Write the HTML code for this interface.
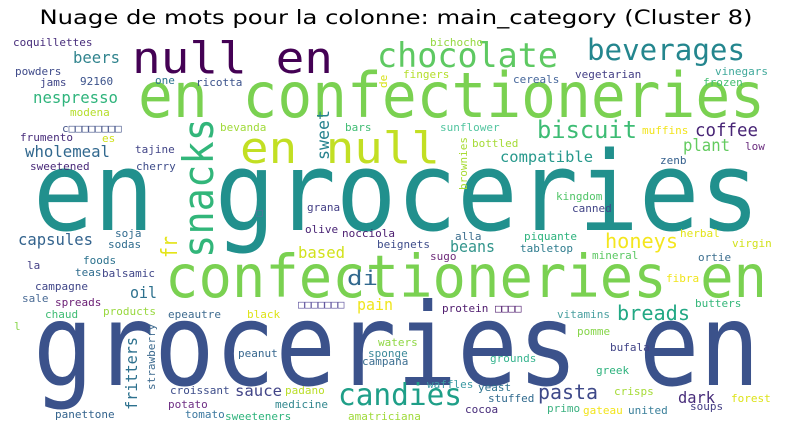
<!DOCTYPE html>
<html><head><meta charset="utf-8"><style>
html,body{margin:0;padding:0;background:#fff;}
svg{display:block}
text{font-family:"DejaVu Sans Mono","Liberation Mono","Noto Sans CJK SC",monospace;}
.t{font-family:"DejaVu Sans","Liberation Sans",sans-serif;}
.s{font-size:11px}
</style></head><body>
<svg width="790" height="429" viewBox="0 0 790 429">
<text class="t" x="396" y="24" text-anchor="middle" font-size="19.5" textLength="713" lengthAdjust="spacingAndGlyphs" fill="#000">Nuage de mots pour la colonne: main_category (Cluster 8)</text>
<g>
<!-- big words -->
<text x="33" y="230" font-size="110" textLength="727" lengthAdjust="spacingAndGlyphs" fill="#21908d">en groceries</text>
<text x="33" y="385" font-size="114" textLength="727" lengthAdjust="spacingAndGlyphs" fill="#3b528b">groceries en</text>
<text x="138" y="117" font-size="62" textLength="627" lengthAdjust="spacingAndGlyphs" fill="#7ad151">en confectioneries</text>
<text x="165" y="297" font-size="59" textLength="602" lengthAdjust="spacingAndGlyphs" fill="#7ad151">confectioneries en</text>
<text x="132" y="73" font-size="44" textLength="201" lengthAdjust="spacingAndGlyphs" fill="#440154">null en</text>
<text x="240" y="163" font-size="44" textLength="200" lengthAdjust="spacingAndGlyphs" fill="#c2df23">en null</text>
<text transform="translate(213,258) rotate(-90)" font-size="42" textLength="140" lengthAdjust="spacingAndGlyphs" fill="#32b67a">snacks</text>
<text x="377" y="67" font-size="34" textLength="181" lengthAdjust="spacingAndGlyphs" fill="#5ec962">chocolate</text>
<text x="587" y="60" font-size="29" textLength="158" lengthAdjust="spacingAndGlyphs" fill="#24868e">beverages</text>
<text x="338" y="405" font-size="30" textLength="124" lengthAdjust="spacingAndGlyphs" fill="#1f9f88">candies</text>
<text x="537" y="138" font-size="24" textLength="100" lengthAdjust="spacingAndGlyphs" fill="#3dbc74">biscuit</text>
<!-- medium words -->
<text x="73" y="63" font-size="15.6" textLength="47" lengthAdjust="spacingAndGlyphs" fill="#31848e">beers</text>
<text x="33" y="103" font-size="15.6" textLength="85" lengthAdjust="spacingAndGlyphs" fill="#2fb47c">nespresso</text>
<text x="25" y="157" font-size="15.6" textLength="85" lengthAdjust="spacingAndGlyphs" fill="#31688e">wholemeal</text>
<text x="18" y="245" font-size="15.6" textLength="75" lengthAdjust="spacingAndGlyphs" fill="#33638d">capsules</text>
<text transform="translate(329,160) rotate(-90)" font-size="17" textLength="50" lengthAdjust="spacingAndGlyphs" fill="#26828e">sweet</text>
<text transform="translate(177,258) rotate(-90)" font-size="22" textLength="22" lengthAdjust="spacingAndGlyphs" fill="#e4e419">fr</text>
<text x="695" y="136" font-size="17.5" textLength="63" lengthAdjust="spacingAndGlyphs" fill="#482576">coffee</text>
<text x="683" y="151" font-size="17" textLength="47" lengthAdjust="spacingAndGlyphs" fill="#63cb5f">plant</text>
<text x="500" y="162" font-size="15.5" textLength="93" lengthAdjust="spacingAndGlyphs" fill="#27998c">compatible</text>
<text x="298" y="258" font-size="16" textLength="47" lengthAdjust="spacingAndGlyphs" fill="#d2e21b">based</text>
<text x="347" y="285" font-size="20" textLength="31" lengthAdjust="spacingAndGlyphs" fill="#31688e">di</text>
<text x="130" y="298" font-size="16" textLength="27" lengthAdjust="spacingAndGlyphs" fill="#2d718e">oil</text>
<text x="357" y="310" font-size="16" textLength="36" lengthAdjust="spacingAndGlyphs" fill="#efe51c">pain</text>
<text transform="translate(137,410) rotate(-90)" font-size="16" textLength="73" lengthAdjust="spacingAndGlyphs" fill="#2d718e">fritters</text>
<text x="235" y="396" font-size="15.5" textLength="47" lengthAdjust="spacingAndGlyphs" fill="#414487">sauce</text>
<text x="605" y="248" font-size="20" textLength="73" lengthAdjust="spacingAndGlyphs" fill="#f4e61e">honeys</text>
<text x="450" y="252" font-size="16" textLength="45" lengthAdjust="spacingAndGlyphs" fill="#31948b">beans</text>
<text x="617" y="320" font-size="20" textLength="73" lengthAdjust="spacingAndGlyphs" fill="#22a884">breads</text>
<text x="538" y="399" font-size="20" textLength="60" lengthAdjust="spacingAndGlyphs" fill="#3e4989">pasta</text>
<text x="678" y="403" font-size="16" textLength="37" lengthAdjust="spacingAndGlyphs" fill="#472c7a">dark</text>
<!-- small words -->
<text class="s" x="13" y="46" fill="#472d7b">coquillettes</text>
<text class="s" x="15" y="75" fill="#3e4a89">powders</text>
<text class="s" x="40" y="86" fill="#404688">jams</text>
<text class="s" x="80" y="85" fill="#3b528b">92160</text>
<text class="s" x="155" y="84" fill="#2c728e">one</text>
<text class="s" x="196" y="86" fill="#3b528b">ricotta</text>
<text class="s" transform="translate(387,88) rotate(-90)" fill="#d8e219">de</text>
<text class="s" x="70" y="116" fill="#b5de2b">modena</text>
<text class="s" x="62" y="132" fill="#46558a">c□□□□□□□□</text>
<text class="s" x="220" y="131" fill="#a0da39">bevanda</text>
<text class="s" x="345" y="131" fill="#3fbc73">bars</text>
<text class="s" x="20" y="141" fill="#472c7a">frumento</text>
<text class="s" x="102" y="142" fill="#d0e11c">es</text>
<text class="s" x="135" y="153" fill="#414487">tajine</text>
<text class="s" x="30" y="170" fill="#482878">sweetened</text>
<text class="s" x="136" y="170" fill="#3e4c8a">cherry</text>
<text class="s" x="307" y="211" fill="#433e85">grana</text>
<text class="s" x="256" y="216" fill="#5a6ea0">□</text>
<text class="s" x="305" y="233" fill="#482374">olive</text>
<text class="s" x="430" y="46" fill="#95d840">bichocho</text>
<text class="s" x="403" y="78" fill="#b5de2b">fingers</text>
<text class="s" x="513" y="83" fill="#46679b">cereals</text>
<text class="s" x="575" y="78" fill="#433e85">vegetarian</text>
<text class="s" x="715" y="75" fill="#40a99b">vinegars</text>
<text class="s" x="703" y="86" fill="#44bf70">frozen</text>
<text class="s" x="440" y="131" fill="#52c5a0">sunflower</text>
<text class="s" x="642" y="134" fill="#f2e41c">muffins</text>
<text class="s" x="472" y="147" fill="#a5db36">bottled</text>
<text class="s" transform="translate(467,190) rotate(-90)" fill="#a8db34">brownies</text>
<text class="s" x="745" y="150" fill="#6a2c7e">low</text>
<text class="s" x="660" y="164" fill="#35608d">zenb</text>
<text class="s" x="556" y="200" fill="#52c569">kingdom</text>
<text class="s" x="572" y="212" fill="#414487">canned</text>
<text class="s" x="115" y="237" fill="#306a8e">soja</text>
<text class="s" x="108" y="248" fill="#2f6c8e">sodas</text>
<text class="s" x="342" y="237" fill="#4a1c6f">nocciola</text>
<text class="s" x="377" y="248" fill="#3e4c8a">beignets</text>
<text class="s" x="27" y="269" fill="#433e85">la</text>
<text class="s" x="83" y="264" fill="#2c728e">foods</text>
<text class="s" x="75" y="276" fill="#2f6c8e">teas</text>
<text class="s" x="102" y="277" fill="#404688">balsamic</text>
<text class="s" x="35" y="290" fill="#404688">campagne</text>
<text class="s" x="22" y="302" fill="#4a6b95">sale</text>
<text class="s" x="55" y="306" fill="#6a1d74">spreads</text>
<text class="s" x="45" y="318" fill="#3fbc73">chaud</text>
<text class="s" x="103" y="315" fill="#98d83e">products</text>
<text class="s" x="168" y="318" fill="#3e6b8f">epeautre</text>
<text class="s" x="247" y="318" fill="#dde318">black</text>
<text class="s" x="298" y="308" fill="#5a4e9a">□□□□□□□</text>
<text class="s" x="14" y="330" fill="#86d549">l</text>
<text class="s" transform="translate(155,390) rotate(-90)" fill="#3e6b8f">strawberry</text>
<text class="s" x="238" y="357" fill="#37678e">peanut</text>
<text class="s" x="170" y="394" fill="#3d4d8a">croissant</text>
<text class="s" x="285" y="394" fill="#bade28">padano</text>
<text class="s" x="168" y="408" fill="#6e2e84">potato</text>
<text class="s" x="275" y="408" fill="#31878e">medicine</text>
<text class="s" x="55" y="418" fill="#33638d">panettone</text>
<text class="s" x="185" y="418" fill="#3c78a0">tomato</text>
<text class="s" x="225" y="420" fill="#2fb47c">sweeteners</text>
<text class="s" x="348" y="420" fill="#9fda3a">amatriciana</text>
<text class="s" x="378" y="346" fill="#8fd744">waters</text>
<text class="s" x="368" y="357" fill="#3c8a9a">sponge</text>
<text class="s" x="362" y="365" fill="#3b6e90">campana</text>
<text class="s" x="455" y="240" fill="#3b6e8e">alla</text>
<text class="s" x="524" y="240" fill="#2db27d">piquante</text>
<text class="s" x="680" y="237" fill="#e2e418">herbal</text>
<text class="s" x="732" y="247" fill="#d2e21b">virgin</text>
<text class="s" x="520" y="252" fill="#2e7c8e">tabletop</text>
<text class="s" x="430" y="260" fill="#6e2b7a">sugo</text>
<text class="s" x="592" y="259" fill="#5cc863">mineral</text>
<text class="s" x="698" y="261" fill="#3b6e8e">ortie</text>
<text class="s" x="666" y="282" fill="#f0e51c">fibra</text>
<text class="s" x="695" y="307" fill="#34b679">butters</text>
<text class="s" x="442" y="312" fill="#4e1a6d">protein □□□□</text>
<text class="s" x="557" y="318" fill="#4aa0a0">vitamins</text>
<text class="s" x="577" y="335" fill="#86d549">pomme</text>
<text class="s" x="610" y="351" fill="#414487">bufala</text>
<text class="s" x="490" y="362" fill="#36b48f">grounds</text>
<text class="s" x="596" y="374" fill="#2db27d">greek</text>
<text class="s" x="427" y="388" fill="#3c9aa3">waffles</text>
<text class="s" x="478" y="391" fill="#2c728e">yeast</text>
<text class="s" x="614" y="395" fill="#a5db36">crisps</text>
<text class="s" x="731" y="402" fill="#dde318">forest</text>
<text class="s" x="488" y="402" fill="#306a8e">stuffed</text>
<text class="s" x="547" y="412" fill="#3bb180">primo</text>
<text class="s" x="690" y="410" fill="#433e85">soups</text>
<text class="s" x="465" y="413" fill="#472c7a">cocoa</text>
<text class="s" x="583" y="414" fill="#f2e41c">gateau</text>
<text class="s" x="628" y="414" fill="#3a7f9a">united</text>
</g>
</svg>
</body></html>
